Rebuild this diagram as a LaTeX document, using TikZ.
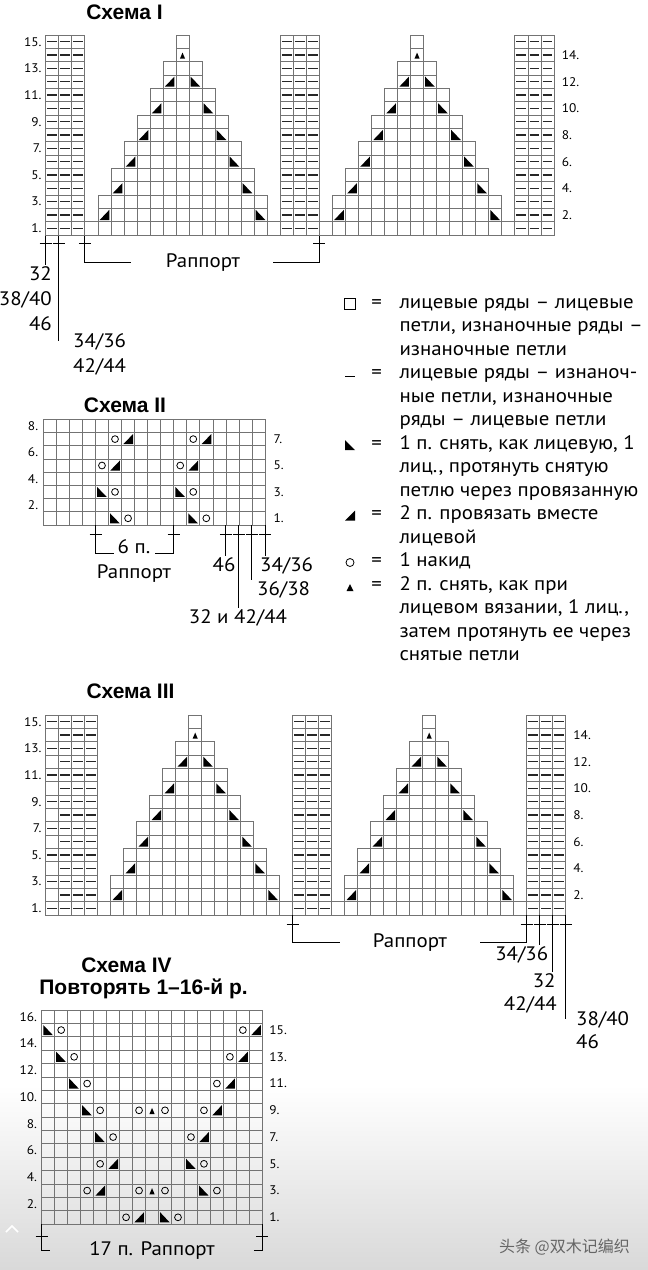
\documentclass[tikz,border=0pt]{standalone}
\usepackage{fontspec}
\setmainfont{PT Sans}[FakeStretch=1.07]
\newfontfamily\headfont{Liberation Sans}
\newfontfamily\cjk{Noto Sans CJK SC}
\usetikzlibrary{positioning}

% chart cells and symbols, in cell units
\newcommand\purlcell[2]{\draw[cell] (#1,#2) rectangle ++(1,1); \draw[purl] (#1+.13,#2+.5) -- ++(.74,0);}
\newcommand\ktog[2]{\fill (#1+.88,#2+.12) -- (#1+.88,#2+.88) -- (#1+.14,#2+.88) -- cycle;}
\newcommand\skp[2]{\fill (#1+.12,#2+.12) -- (#1+.12,#2+.88) -- (#1+.86,#2+.88) -- cycle;}
\newcommand\yo[2]{\draw[yarn] (#1+.5,#2+.5) circle (3.4pt);}
\newcommand\sktwo[2]{\fill (#1+.3,#2+.78) -- (#1+.7,#2+.78) -- (#1+.5,#2+.32) -- cycle;}
\newcommand\barmark[2][8pt]{\draw[lead] ([xshift=-6pt,yshift=-#1]#2) -- ([xshift=6pt,yshift=-#1]#2);}
% 15-row spire of stitches around column #1
\newcommand\spire[1]{%
  \foreach \k in {2,...,15}{%
    \pgfmathtruncatemacro\lo{#1-min(6,7-floor(\k/2))}%
    \pgfmathtruncatemacro\hi{#1+min(6,7-floor(\k/2))}%
    \foreach \c in {\lo,...,\hi} \draw[cell] (\c,15-\k) rectangle ++(1,1);}%
  \foreach \k in {2,4,...,12}{%
    \pgfmathtruncatemacro\lo{#1-7+\k/2}%
    \pgfmathtruncatemacro\hi{#1+7-\k/2}%
    \ktog{\lo}{15-\k}\skp{\hi}{15-\k}}%
  \sktwo{#1}{1}}

\begin{document}
\begin{tikzpicture}[x=1pt,y=-1pt,
  cell/.style={draw=black!55,line width=0.6pt},
  purl/.style={draw=black!85,line width=1.4pt},
  yarn/.style={draw=black,line width=0.8pt},
  lead/.style={draw=black,line width=0.9pt},
  rowlbl/.style={font=\fontsize{12.5}{14}\selectfont,inner sep=0pt},
  lbl/.style={font=\fontsize{19.5}{23.5}\selectfont,inner sep=1pt},
  head/.style={font=\headfont\bfseries\fontsize{21}{25}\selectfont,inner sep=0pt}]
  \useasboundingbox (0,0) rectangle (648,1270);
  \fill[white] (0,0) rectangle (648,1270);
  \shade[top color=white,bottom color=black!15] (0,1085) rectangle (648,1270);

  % Схема I
  \node[head] (tI) at (124.5,12) {Схема I};
  \begin{scope}[shift={(45.7,35)},x=13.03pt,y=-13.33pt]
    \foreach \c in {0,...,38} \draw[cell] (\c,14) rectangle ++(1,1);
    \foreach \c in {0,1,2,18,19,20,36,37,38}
      \foreach \r in {0,...,14} {\purlcell{\c}{\r}}
    \spire{10} \spire{28}
    \foreach \k in {1,3,...,15} \node[rowlbl,anchor=east] (Ir\k) at (-.3,15.5-\k) {\k.};
    \foreach \k in {2,4,...,14} \node[rowlbl,anchor=west] (Ir\k) at (39.6,15.5-\k) {\k.};
  \end{scope}
  \coordinate (cA) at (45.7,235.5);
  \coordinate (cB) at (58.7,235.5);
  \coordinate (cC) at (84.8,235.5);
  \coordinate (cD) at (319.3,235.5);
  \foreach \p in {cA,cB,cC,cD} {\barmark{\p}}
  \node[lbl,anchor=base east] (l32) at (53,280) {32};
  \node[lbl,anchor=base east] (l3840) at (53,305) {38/40};
  \node[lbl,anchor=base east] (l46) at (53,330) {46};
  \node[lbl,anchor=base west] (l3436) at (72,347) {34/36};
  \node[lbl,anchor=base west] (l4244) at (72,372) {42/44};
  \node[lbl,anchor=base] (rapI) at (203,267) {Раппорт};
  \draw[lead] (cA) -- (cA |- l32.north);
  \draw[lead] (cB) -- (cB |- l3436.center);
  \draw[lead] (cC) |- ([xshift=-34pt]rapI.west);
  \draw[lead] ([xshift=32pt]rapI.east) -| (cD);

  % legend
  \draw[line width=0.8pt] (344.7,298.7) rectangle ++(10.7,10.7);
  \draw[line width=1pt] (345,376) -- (355,376);
  \fill (345,440) -- (345,450) -- (355,450) -- cycle;
  \fill (355,510.5) -- (355,520.5) -- (345,520.5) -- cycle;
  \draw[yarn] (350,562.5) circle (4pt);
  \fill (346.5,591) -- (353.5,591) -- (350,584) -- cycle;
  \foreach \i in {0,3,6,9,11,12} \node[lbl,anchor=base] (eq\i) at (376.7,308.3+23.5*\i) {=};
  \foreach \t [count=\i from 0] in {{лицевые ряды – лицевые},{петли, изнаночные ряды –},
      {изнаночные петли},{лицевые ряды – изнаноч-},{ные петли, изнаночные},
      {ряды – лицевые петли},{1 п. снять, как лицевую, 1},{лиц., протянуть снятую},
      {петлю через провязанную},{2 п. провязать вместе},{лицевой},{1 накид},
      {2 п. снять, как при},{лицевом вязании, 1 лиц.,},{затем протянуть ее через},
      {снятые петли}}
    \node[lbl,anchor=base west] (leg\i) at (398.3,308.3+23.5*\i) {\t};

  % Схема II
  \node[head] (tII) at (125,405) {Схема II};
  \begin{scope}[shift={(43.3,419.3)},x=13.04pt,y=-13.2pt]
    \foreach \c in {0,...,17} \draw[cell] (\c,0) -- (\c,8);
    \foreach \r in {0,...,8} \draw[cell] (0,\r) -- (17,\r);
    \foreach \d in {0,6}{
      \yo{5+\d}{1} \ktog{6+\d}{1}
      \yo{4+\d}{3} \ktog{5+\d}{3}
      \skp{4+\d}{5} \yo{5+\d}{5}
      \skp{5+\d}{7} \yo{6+\d}{7}}
    \foreach \k in {2,4,6,8} \node[rowlbl,anchor=east] (IIr\k) at (-.38,8.5-\k) {\k.};
    \foreach \k in {1,3,5,7} \node[rowlbl,anchor=west] (IIr\k) at (17.64,8.5-\k) {\k.};
  \end{scope}
  \coordinate (cE) at (95.5,525);
  \coordinate (cF) at (173.7,525);
  \coordinate (cG) at (225.9,525);
  \coordinate (cH) at (238.9,525);
  \coordinate (cI) at (251.9,525);
  \coordinate (cJ) at (265,525);
  \foreach \p in {cE,cF,cG,cH,cI,cJ} {\barmark[9pt]{\p}}
  \node[lbl,anchor=base] (six) at (134,553.3) {6 п.};
  \node[lbl,anchor=base] (rapII) at (134,578) {Раппорт};
  \node[lbl,anchor=base] (n46) at (224,571) {46};
  \node[lbl,anchor=base] (n3242) at (238,623.5) {32 и 42/44};
  \node[lbl,anchor=base west] (n3638) at (256,595) {36/38};
  \node[lbl,anchor=base west] (n3436) at (259,571) {34/36};
  \draw[lead] (cE) |- ([xshift=-3pt]six.base west);
  \draw[lead] ([xshift=4pt]six.base east) -| (cF);
  \draw[lead] (cG) -- (cG |- n46.north);
  \draw[lead] (cH) -- (cH |- n3242.north);
  \draw[lead] (cI) -- (cI |- n3638.north);
  \draw[lead] (cJ) -- (cJ |- n3436.north);

  % Схема III
  \node[head] (tIII) at (130.5,691) {Схема III};
  \begin{scope}[shift={(45.7,715)},x=13pt,y=-13.33pt]
    \foreach \c in {0,...,39} \draw[cell] (\c,14) rectangle ++(1,1);
    \foreach \r in {0,...,14} \draw[cell] (0,\r) rectangle ++(1,1);
    \foreach \r in {0,2,...,14} \draw[purl] (.13,\r+.5) -- ++(.74,0);
    \foreach \c in {1,2,3,19,20,21,37,38,39}
      \foreach \r in {0,...,14} {\purlcell{\c}{\r}}
    \spire{11} \spire{29}
    \foreach \k in {1,3,...,15} \node[rowlbl,anchor=east] (IIIr\k) at (-.3,15.5-\k) {\k.};
    \foreach \k in {2,4,...,14} \node[rowlbl,anchor=west] (IIIr\k) at (40.58,15.5-\k) {\k.};
  \end{scope}
  \coordinate (cK) at (292.7,915);
  \coordinate (cL) at (526.7,915);
  \coordinate (cM) at (539.7,915);
  \coordinate (cN) at (552.7,915);
  \coordinate (cO) at (565.7,915);
  \foreach \p in {cK,cL,cM,cN,cO} {\barmark[9pt]{\p}}
  \node[lbl,anchor=base] (rapIII) at (410,947) {Раппорт};
  \node[lbl,anchor=base] (m3436) at (521.7,960) {34/36};
  \node[lbl,anchor=base east] (m32) at (556.7,987) {32};
  \node[lbl,anchor=base east] (m4244) at (558,1010) {42/44};
  \node[lbl,anchor=base west] (m3840) at (575,1025) {38/40};
  \node[lbl,anchor=base west] (m46) at (575,1048) {46};
  \draw[lead] (cK) |- ([xshift=-32pt]rapIII.west);
  \draw[lead] ([xshift=32pt]rapIII.east) -| (cL);
  \draw[lead] (cM) -- (cM |- m3436.north);
  \draw[lead] (cN) -- (cN |- m32.north);
  \draw[lead] (cO) -- (cO |- m3840.center);

  % Схема IV
  \node[head] (tIV) at (126.5,965) {Схема IV};
  \node[head,anchor=base] (tIVb) at (143.5,994) {Повторять 1–16-й р.};
  \begin{scope}[shift={(41.7,1010)},x=12.98pt,y=-13.375pt]
    \foreach \c in {0,...,17} \draw[cell] (\c,0) -- (\c,16);
    \foreach \r in {0,...,16} \draw[cell] (0,\r) -- (17,\r);
    \foreach \i in {0,...,4}
      {\skp{\i}{1+2*\i} \yo{1+\i}{1+2*\i} \yo{15-\i}{1+2*\i} \ktog{16-\i}{1+2*\i}}
    \foreach \r in {7,13} {\yo{7}{\r} \sktwo{8}{\r} \yo{9}{\r}}
    \yo{4}{11} \ktog{5}{11} \skp{11}{11} \yo{12}{11}
    \yo{3}{13} \ktog{4}{13} \skp{12}{13} \yo{13}{13}
    \yo{6}{15} \ktog{7}{15} \skp{9}{15} \yo{10}{15}
    \foreach \k in {2,4,...,16} \node[rowlbl,anchor=east] (IVr\k) at (-.34,16.5-\k) {\k.};
    \foreach \k in {1,3,...,15} \node[rowlbl,anchor=west] (IVr\k) at (17.53,16.5-\k) {\k.};
  \end{scope}
  \coordinate (cP) at (41.7,1224);
  \coordinate (cQ) at (262.3,1224);
  \foreach \p in {cP,cQ} {\barmark[12pt]{\p}}
  \node[lbl,anchor=base] (rapIV) at (152,1255) {17 п. Раппорт};
  \draw[lead] (cP) |- ([xshift=-38pt]rapIV.west);
  \draw[lead] ([xshift=38pt]rapIV.east) -| (cQ);

  \draw[white,line width=1.5pt] (6,1232) -- (12,1226) -- (18,1232);
  \node[font=\cjk\fontsize{16}{18}\selectfont,text=black!60] (wm) at (564.5,1247) {头条 @双木记编织};
\end{tikzpicture}
\end{document}
